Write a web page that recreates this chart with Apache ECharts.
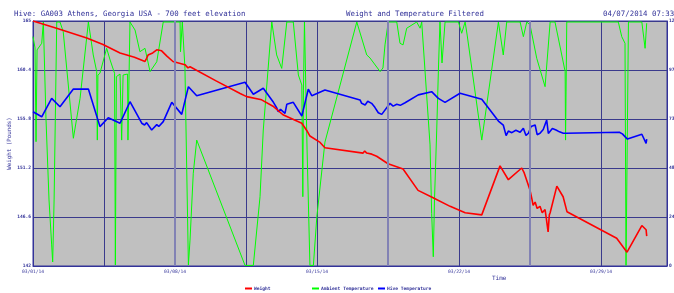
<!DOCTYPE html>
<html>
<head>
<meta charset="utf-8">
<script src="https://cdn.jsdelivr.net/npm/echarts@6/dist/echarts.min.js"></script>
<style>
  html, body { margin: 0; padding: 0; background: #fff; }
  #chart { width: 674px; height: 293px; }
</style>
</head>
<body>
<div id="chart"></div>
<script>
// x values are days since 03/01/14 00:00
const dateLabels = ['03/01/14', '03/08/14', '03/15/14', '03/22/14', '03/29/14'];

// weight in pounds (left axis)
const weight = [
    [0.0, 165.0], [1.2, 164.3], [2.65, 163.4], [3.45, 162.8], [4.29, 162.0], [5.0, 161.6],
    [5.52, 161.2], [5.6, 161.5], [5.67, 161.8], [5.9, 162.0], [6.1, 162.3], [6.34, 162.2],
    [6.6, 161.7], [6.9, 161.2], [7.49, 160.9], [7.64, 160.6], [7.74, 160.7], [9.0, 159.4],
    [10.21, 158.2], [10.53, 157.9], [11.27, 157.6], [11.83, 157.0], [12.32, 156.2],
    [13.25, 155.4], [13.5, 154.7], [13.65, 154.2], [14.15, 153.6], [14.39, 153.1],
    [16.27, 152.6], [16.35, 152.8], [16.45, 152.6], [16.7, 152.5], [16.94, 152.3],
    [17.5, 151.6], [18.24, 151.1], [18.98, 149.1], [19.72, 148.4], [20.56, 147.6],
    [21.3, 147.0], [22.12, 146.8], [23.02, 151.4], [23.43, 150.1], [24.09, 151.2],
    [24.2, 150.8], [24.5, 149.1], [24.6, 148.2], [24.65, 147.7], [24.75, 148.0],
    [24.85, 147.4], [24.99, 147.6], [25.1, 147.0], [25.24, 147.3], [25.3, 146.5],
    [25.39, 145.2], [25.45, 146.8], [25.49, 147.0], [25.82, 149.5], [26.13, 148.5],
    [26.32, 147.1], [28.77, 144.6], [29.08, 143.8], [29.28, 143.3], [30.01, 145.8],
    [30.22, 145.4], [30.25, 144.8]
];

// ambient temperature (right axis)
const ambient = [
    [0.0, 114.2], [0.1, 108.6], [0.15, 61.9], [0.2, 107.6], [0.43, 110.9], [0.51, 121.5],
    [0.64, 73.5], [0.79, 32.9], [0.92, 10.5], [0.97, 2.0], [1.04, 32.9], [1.17, 121.5],
    [1.33, 121.5], [1.49, 116.7], [1.99, 63.6], [2.32, 83.5], [2.73, 121.5], [2.97, 105.1],
    [3.14, 96.8], [3.17, 62.7], [3.2, 95.1], [3.3, 96.0], [3.63, 108.4], [3.8, 102.6],
    [4.02, 96.0], [4.06, 0.5], [4.11, 94.3], [4.29, 95.6], [4.37, 62.7], [4.44, 95.1],
    [4.66, 95.6], [4.68, 62.7], [4.78, 121.5], [5.03, 117.5], [5.27, 106.7], [5.52, 108.4],
    [5.77, 96.8], [6.1, 101.7], [6.42, 121.5], [7.25, 121.5], [7.27, 106.7], [7.36, 121.5],
    [7.49, 98.4], [7.66, 0.5], [7.74, 12.9], [7.9, 46.2], [8.07, 62.7], [10.45, 0.3],
    [10.86, 0.3], [11.19, 34.5], [11.35, 67.7], [11.77, 121.5], [12.01, 105.1],
    [12.26, 98.4], [12.51, 121.5], [12.83, 121.5], [13.08, 95.1], [13.25, 90.1],
    [13.3, 34.5], [13.33, 87.6], [13.38, 121.5], [13.51, 57.8], [13.65, 0.3], [13.82, 0.3],
    [13.99, 24.5], [14.39, 61.7], [15.96, 121.5], [16.45, 105.1], [16.61, 103.6],
    [17.11, 96.8], [17.25, 98.6], [17.35, 110.1], [17.51, 121.5], [17.93, 121.5],
    [18.09, 110.9], [18.24, 110.1], [18.42, 118.4], [18.91, 121.5], [19.08, 118.4],
    [19.16, 121.5], [19.57, 60.3], [19.65, 26.2], [19.73, 4.6], [19.79, 32.9], [19.9, 67.7],
    [19.99, 100.1], [20.06, 121.5], [20.16, 101.1], [20.31, 121.5], [20.97, 121.5],
    [21.13, 115.9], [21.3, 121.5], [21.4, 115.0], [22.12, 62.7], [22.94, 121.5],
    [23.18, 105.1], [23.35, 121.5], [24.01, 121.5], [24.17, 114.2], [24.34, 121.5],
    [24.5, 120.0], [24.83, 103.4], [25.24, 89.3], [25.49, 121.5], [25.73, 121.5],
    [26.23, 96.8], [26.25, 62.7], [26.31, 121.5], [28.85, 121.5], [29.02, 114.2],
    [29.18, 110.9], [29.23, 0.3], [29.35, 121.5], [30.01, 121.5], [30.17, 108.4],
    [30.25, 120.9]
];

// hive temperature (right axis)
const hive = [
    [0.0, 76.8], [0.43, 74.3], [0.92, 83.5], [1.33, 79.3], [1.99, 88.1], [2.73, 88.1],
    [3.3, 69.4], [3.71, 73.8], [4.29, 71.1], [4.78, 81.8], [5.36, 71.1], [5.5, 70.2],
    [5.6, 71.4], [5.85, 67.7], [6.1, 70.4], [6.2, 69.5], [6.42, 71.9], [6.84, 81.5],
    [7.33, 75.5], [7.66, 89.3], [8.07, 84.8], [10.45, 91.5], [10.86, 85.5], [11.35, 88.5],
    [11.85, 81.5], [12.0, 79.0], [12.09, 76.8], [12.2, 78.0], [12.42, 76.0], [12.51, 80.5],
    [12.83, 81.5], [13.25, 74.7], [13.57, 88.1], [13.74, 84.8], [14.39, 87.6],
    [16.12, 82.7], [16.2, 81.0], [16.37, 80.2], [16.5, 82.0], [16.69, 81.0], [16.85, 79.0],
    [17.02, 76.3], [17.19, 75.5], [17.6, 81.0], [17.75, 79.6], [17.93, 80.5], [18.1, 80.0],
    [18.34, 81.3], [18.99, 85.2], [19.65, 86.8], [19.98, 83.5], [20.31, 81.5], [21.05, 86.0],
    [22.12, 83.0], [22.94, 72.2], [23.18, 70.2], [23.32, 64.9], [23.43, 67.2], [23.6, 66.4],
    [23.8, 67.6], [24.01, 66.6], [24.17, 68.6], [24.3, 65.0], [24.42, 66.1], [24.55, 69.5],
    [24.75, 70.2], [24.85, 65.4], [24.99, 66.1], [25.15, 68.0], [25.32, 72.7], [25.4, 66.0],
    [25.49, 66.9], [25.6, 68.5], [25.78, 67.7], [25.95, 66.8], [26.14, 66.1], [26.27, 66.1],
    [28.9, 66.6], [29.05, 65.8], [29.18, 64.4], [29.3, 63.2], [30.01, 65.6], [30.22, 61.1],
    [30.25, 63.2]
];

const navy = '#333399';
const mono = 'DejaVu Sans Mono';

const chart = echarts.init(document.getElementById('chart'));
chart.setOption({
    animation: false,
    backgroundColor: '#ffffff',
    title: [
        { text: 'Hive: GA003 Athens, Georgia USA - 700 feet elevation', left: 14, top: 11, padding: 0,
          textStyle: { fontFamily: mono, fontSize: 7.4, fontWeight: 'normal', color: navy } },
        { text: 'Weight and Temperature Filtered', left: 346, top: 11, padding: 0,
          textStyle: { fontFamily: mono, fontSize: 7.4, fontWeight: 'normal', color: navy } },
        { text: '04/07/2014 07:33', left: 603, top: 11, padding: 0,
          textStyle: { fontFamily: mono, fontSize: 7.4, fontWeight: 'normal', color: navy } }
    ],
    legend: [
        { data: ['Weight'], left: 245, top: 286, icon: 'rect', itemWidth: 7, itemHeight: 2, padding: 0,
          textStyle: { fontFamily: mono, fontSize: 4.6, fontWeight: 'bold', color: navy, padding: [0, 0, 0, -3] } },
        { data: ['Ambient Temperature'], left: 312, top: 286, icon: 'rect', itemWidth: 7, itemHeight: 2, padding: 0,
          textStyle: { fontFamily: mono, fontSize: 4.6, fontWeight: 'bold', color: navy, padding: [0, 0, 0, -3] } },
        { data: ['Hive Temperature'], left: 378, top: 286, icon: 'rect', itemWidth: 7, itemHeight: 2, padding: 0,
          textStyle: { fontFamily: mono, fontSize: 4.6, fontWeight: 'bold', color: navy, padding: [0, 0, 0, -3] } }
    ],
    graphic: [
        { type: 'text', left: 492, top: 275,
          style: { text: 'Time', fontFamily: mono, fontSize: 6, fill: navy } }
    ],
    grid: {
        left: 33, right: 7, top: 21, bottom: 27, outerBoundsMode: 'none', containLabel: false,
        show: true, backgroundColor: '#c0c0c0', borderColor: navy, borderWidth: 1
    },
    xAxis: {
        type: 'value', min: 0, max: 31.25, interval: 3.5,
        axisLine: { show: true, lineStyle: { color: navy } },
        axisTick: { show: false },
        splitLine: { show: true, lineStyle: { color: '#3a3a8c', width: 1 } },
        axisLabel: {
            fontFamily: mono, fontSize: 4.6, color: navy, margin: 3, showMaxLabel: false,
            formatter: (v) => {
                const k = Math.round(v / 3.5);
                return k % 2 === 0 ? (dateLabels[k / 2] || '') : '';
            }
        }
    },
    yAxis: [
        {
            type: 'value', min: 142, max: 165, interval: 4.6,
            name: 'Weight (Pounds)', nameLocation: 'middle', nameGap: 21, nameRotate: 90,
            nameMoveOverlap: false,
            nameTextStyle: { fontFamily: mono, fontSize: 5.8, color: navy },
            axisLine: { show: true, lineStyle: { color: navy } },
            axisTick: { show: false },
            splitLine: { show: true, lineStyle: { color: '#3a3a8c', width: 1 } },
            axisLabel: { fontFamily: mono, fontSize: 4.6, color: navy, fontWeight: 'bold', margin: 2,
                formatter: (v) => String(Math.round(v * 10) / 10) }
        },
        {
            type: 'value', min: 0, max: 122, interval: 24.4, position: 'right',
            axisLine: { show: true, lineStyle: { color: navy } },
            axisTick: { show: false },
            splitLine: { show: false },
            axisLabel: { fontFamily: mono, fontSize: 4.6, color: navy, fontWeight: 'bold', margin: 2,
                formatter: (v) => String(Math.floor(v + 1e-6)) }
        }
    ],
    series: [
        {
            name: 'Ambient Temperature', type: 'line', yAxisIndex: 1, data: ambient,
            showSymbol: false, z: 2, color: '#00ff00',
            lineStyle: { color: '#00ff00', width: 1 },
            markLine: {
                silent: true, symbol: 'none', label: { show: false },
                lineStyle: { color: '#8282b4', width: 2, type: 'solid' },
                data: [{ xAxis: 7 }, { xAxis: 17.5 }, { xAxis: 24.5 }]
            }
        },
        {
            name: 'Hive Temperature', type: 'line', yAxisIndex: 1, data: hive,
            showSymbol: false, z: 3, color: '#0000ff',
            lineStyle: { color: '#0000ff', width: 1.6 }
        },
        {
            name: 'Weight', type: 'line', yAxisIndex: 0, data: weight,
            showSymbol: false, z: 4, color: '#ff0000',
            lineStyle: { color: '#ff0000', width: 1.6 }
        }
    ]
});
</script>
</body>
</html>
